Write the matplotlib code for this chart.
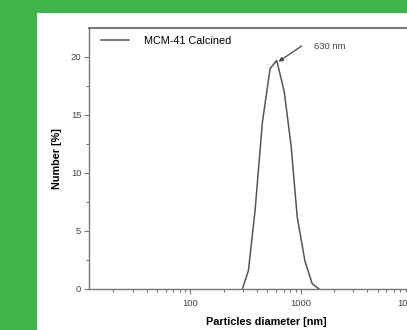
import matplotlib.pyplot as plt
from matplotlib.patches import Rectangle
from matplotlib.ticker import LogLocator, FixedLocator, NullFormatter

# DLS size distribution
diameter = [296, 336, 386, 450, 528, 607, 710, 820, 931, 1094, 1274, 1469]
number = [0.0, 1.6, 6.8, 14.4, 19.0, 19.7, 17.0, 12.3, 6.2, 2.4, 0.45, 0.0]
series_label = 'MCM-41 Calcined'
peak_label = '630 nm'
peak_x, peak_y = 607, 19.7

plt.rcParams['font.family'] = ['Liberation Sans', 'DejaVu Sans']

fig = plt.figure(figsize=(4.07, 3.30), dpi=100)
fig.patch.set_facecolor('#3db54a')
# white panel behind the chart
fig.patches.append(Rectangle((37 / 407, 0), 1, 1 - 13 / 330, transform=fig.transFigure,
                             facecolor='white', edgecolor='none', zorder=-5))

ax = fig.add_axes([89 / 407, 1 - 289 / 330, 355 / 407, 261 / 330])
ax.set_facecolor('white')
ax.plot(diameter, number, color='#555555', lw=1.1, label=series_label)
ax.set_xscale('log')
ax.set_xlim(12, 20000)
ax.set_ylim(0, 22.5)

ax.xaxis.set_major_locator(FixedLocator([100, 1000, 10000]))
ax.xaxis.set_major_formatter(plt.FuncFormatter(lambda v, p: f'{int(v)}'))
ax.xaxis.set_minor_locator(LogLocator(base=10, subs=range(2, 10)))
ax.xaxis.set_minor_formatter(NullFormatter())
ax.set_yticks([0, 5, 10, 15, 20])
ax.set_yticks([2.5, 7.5, 12.5, 17.5], minor=True)

for s in ['left', 'bottom', 'top']:
    ax.spines[s].set_color('#777777')
    ax.spines[s].set_linewidth(1.0)
ax.spines['top'].set_linewidth(1.5)
ax.spines['right'].set_visible(False)

ax.tick_params(which='major', direction='out', length=3.5, width=0.8, color='#777777',
               labelsize=6.8, labelcolor='#444444')
ax.tick_params(axis='x', which='major', pad=4)
ax.tick_params(axis='y', which='major', pad=2)
ax.tick_params(which='minor', direction='out', length=2, width=0.8, color='#777777')

ax.set_xlabel('Particles diameter [nm]', fontsize=7.8, fontweight='bold', labelpad=6)
ax.set_ylabel('Number [%]', fontsize=7.8, fontweight='bold', labelpad=6)

ax.annotate('', xy=(peak_x * 1.04, peak_y - 0.1), xytext=(1020, 20.95),
            arrowprops=dict(arrowstyle='-|>', color='#444444', lw=0.9,
                            mutation_scale=6, shrinkA=0, shrinkB=0))
ax.text(1330, 20.9, peak_label, fontsize=6.8, color='#444444', va='center', ha='left')

ax.legend(loc='upper left', frameon=False, fontsize=7.8, handlelength=2.6,
          handletextpad=1.4, borderaxespad=0.3, bbox_to_anchor=(0.012, 1.0))

fig.savefig('out.png', dpi=100, facecolor=fig.get_facecolor())
